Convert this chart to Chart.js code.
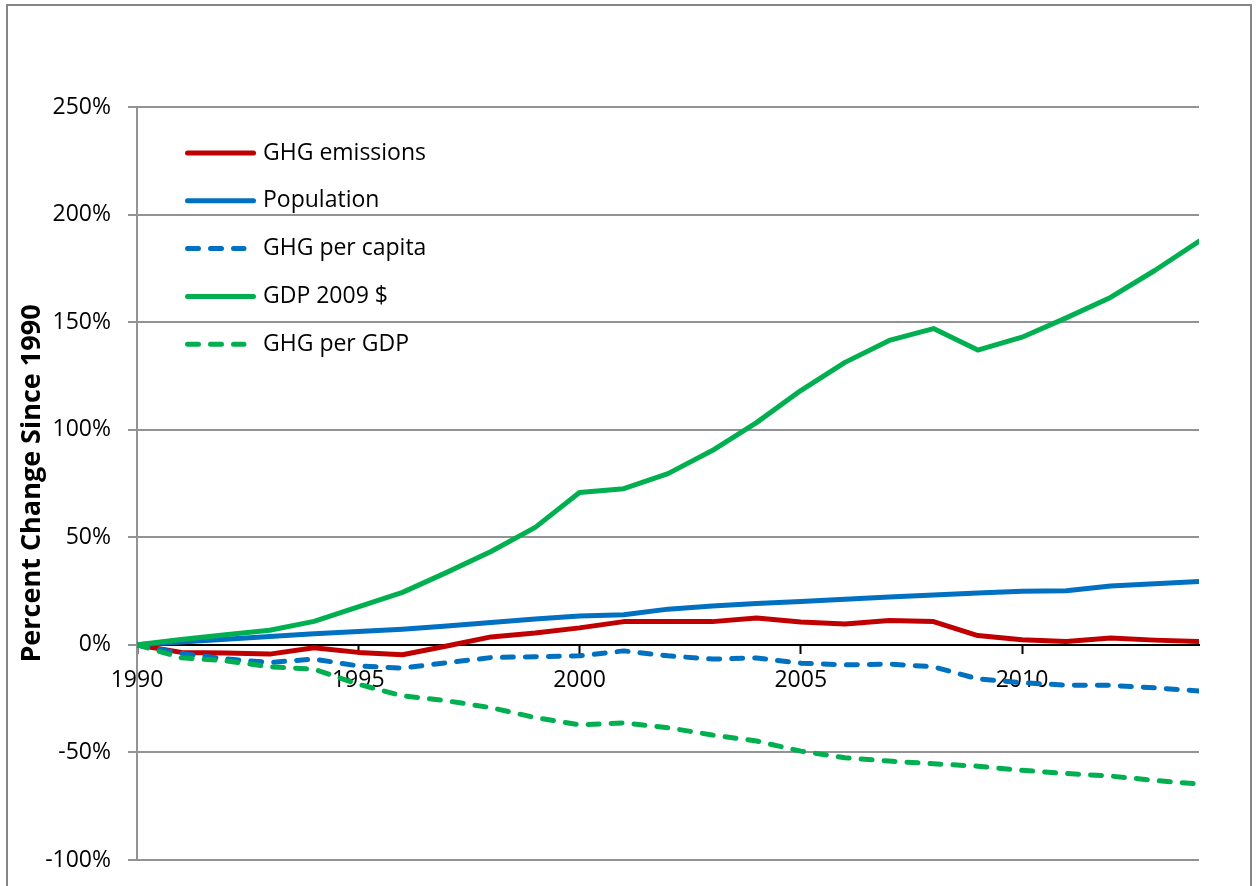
<!DOCTYPE html>
<html>
<head>
<meta charset="utf-8">
<script src="https://cdn.jsdelivr.net/npm/chart.js@4/dist/chart.umd.min.js"></script>
<style>
    body { margin: 0; background: #fff; }
    canvas { display: block; }
</style>
</head>
<body>
<canvas id="ghg-chart" width="1257" height="886"></canvas>
<script>
// Data (percent change since 1990)
const years = [1990, 1991, 1992, 1993, 1994, 1995, 1996, 1997, 1998, 1999, 2000, 2001, 2002,
    2003, 2004, 2005, 2006, 2007, 2008, 2009, 2010, 2011, 2012, 2013, 2014];
const seriesNames = ['GHG emissions', 'Population', 'GHG per capita', 'GDP 2009 $', 'GHG per GDP'];
const ghgEmissions = [0, -3.5, -3.8, -4.3, -1.3, -3.5, -4.6, -0.5, 3.7, 5.5, 7.9, 10.8, 10.8,
    10.8, 12.5, 10.6, 9.7, 11.3, 10.8, 4.3, 2.4, 1.6, 3.2, 2.2, 1.6];
const population = [0, 1.3, 2.6, 3.9, 5.2, 6.2, 7.3, 8.8, 10.4, 12.0, 13.4, 14.0, 16.6,
    18.1, 19.2, 20.2, 21.2, 22.2, 23.2, 24.1, 24.9, 25.1, 27.4, 28.4, 29.4];
const ghgPerCapita = [0, -4.0, -6.5, -8.2, -6.6, -9.8, -10.8, -8.3, -5.9, -5.5, -5.1, -2.8, -5.1,
    -6.6, -6.1, -8.5, -9.3, -8.9, -10.2, -15.8, -17.6, -18.7, -18.8, -20.0, -21.4];
const gdp2009 = [0, 2.5, 4.7, 6.8, 10.9, 17.7, 24.4, 33.7, 43.4, 54.6, 70.8, 72.6, 79.6,
    90.3, 103.3, 118.2, 131.3, 141.5, 147.0, 137.0, 143.0, 152.0, 161.5, 174.0, 187.6];
const ghgPerGdp = [0, -6.0, -7.4, -10.2, -11.3, -18.3, -23.7, -26.0, -29.2, -33.8, -37.2, -36.3, -38.5,
    -41.9, -44.7, -49.4, -52.5, -54.0, -55.3, -56.4, -58.3, -59.8, -61.0, -63.0, -64.7];
const yTicks = { min: -100, max: 250, step: 50 };

const RED = '#C00000';
const BLUE = '#0070C0';
const GREEN = '#00B050';
const GRID = '#939393';
const DASH = [11, 12];

Chart.defaults.font.family = "'Open Sans', sans-serif";
Chart.defaults.font.size = 23;
Chart.defaults.color = '#000';

// Outer frame round the whole chart
const framePlugin = {
    id: 'frame',
    beforeDraw(chart) {
        const ctx = chart.ctx;
        ctx.save();
        ctx.fillStyle = '#fff';
        ctx.fillRect(0, 0, chart.width, chart.height);
        ctx.strokeStyle = '#868686';
        ctx.lineWidth = 2;
        ctx.strokeRect(7, 5, 1244, 900);
        ctx.restore();
    }
};

// Legend drawn inside the plot area, top left
const insideLegend = {
    id: 'insideLegend',
    afterDraw(chart) {
        const ctx = chart.ctx;
        ctx.save();
        chart.data.datasets.forEach(function(ds, i) {
            const y = 153 + i * 47.8;
            ctx.beginPath();
            ctx.strokeStyle = ds.borderColor;
            ctx.lineWidth = 5;
            ctx.lineCap = 'round';
            ctx.setLineDash(ds.borderDash || []);
            ctx.moveTo(187.5, y);
            ctx.lineTo(ds.borderDash ? 244 : 253.5, y);
            ctx.stroke();
            ctx.setLineDash([]);
            ctx.fillStyle = '#000';
            ctx.font = "23px 'Open Sans', sans-serif";
            ctx.textBaseline = 'middle';
            ctx.textAlign = 'left';
            ctx.fillText(ds.label, 263, y);
        });
        ctx.restore();
    }
};

function lineSet(label, data, color, dashed, order) {
    return {
        label: label,
        data: data,
        borderColor: color,
        backgroundColor: color,
        borderWidth: 5,
        borderDash: dashed ? DASH : undefined,
        borderCapStyle: 'round',
        borderJoinStyle: 'round',
        pointRadius: 0,
        tension: 0,
        fill: false,
        order: order
    };
}

const ctx = document.getElementById('ghg-chart').getContext('2d');
new Chart(ctx, {
    type: 'line',
    data: {
        labels: years,
        datasets: [
            lineSet(seriesNames[0], ghgEmissions, RED, false, 4),
            lineSet(seriesNames[1], population, BLUE, false, 3),
            lineSet(seriesNames[2], ghgPerCapita, BLUE, true, 2),
            lineSet(seriesNames[3], gdp2009, GREEN, false, 1),
            lineSet(seriesNames[4], ghgPerGdp, GREEN, true, 0)
        ]
    },
    options: {
        responsive: false,
        animation: false,
        events: [],
        layout: {
            padding: { left: 0, top: 107, right: 58, bottom: 26 }
        },
        plugins: {
            legend: { display: false },
            tooltip: { enabled: false }
        },
        scales: {
            x: {
                type: 'linear',
                position: { y: 0 },
                min: years[0],
                max: years[years.length - 1],
                z: 1,
                afterFit: function(scale) {
                    scale.height = 0;
                    scale.paddingTop = 0;
                    scale.paddingBottom = 0;
                },
                grid: {
                    display: true,
                    drawOnChartArea: false,
                    drawTicks: true,
                    tickLength: 8,
                    tickColor: '#000',
                    tickWidth: 2
                },
                border: { display: true, color: '#000', width: 2 },
                ticks: {
                    stepSize: 5,
                    includeBounds: false,
                    autoSkip: false,
                    maxRotation: 0,
                    padding: 14,
                    callback: function(value) {
                        return String(value);
                    }
                }
            },
            y: {
                min: yTicks.min,
                max: yTicks.max,
                afterFit: function(scale) {
                    scale.width = 137;
                    scale.paddingTop = 0;
                    scale.paddingBottom = 0;
                },
                grid: {
                    color: GRID,
                    lineWidth: 2,
                    drawTicks: true,
                    tickLength: 9
                },
                border: { display: true, color: GRID, width: 2 },
                ticks: {
                    stepSize: yTicks.step,
                    padding: 17,
                    callback: function(value) {
                        return value + '%';
                    }
                },
                title: {
                    display: true,
                    text: 'Percent Change Since 1990',
                    font: { size: 27, weight: 'bold', lineHeight: 1.2 },
                    padding: { top: 16, bottom: 0 }
                }
            }
        }
    },
    plugins: [framePlugin, insideLegend]
});
</script>
</body>
</html>
